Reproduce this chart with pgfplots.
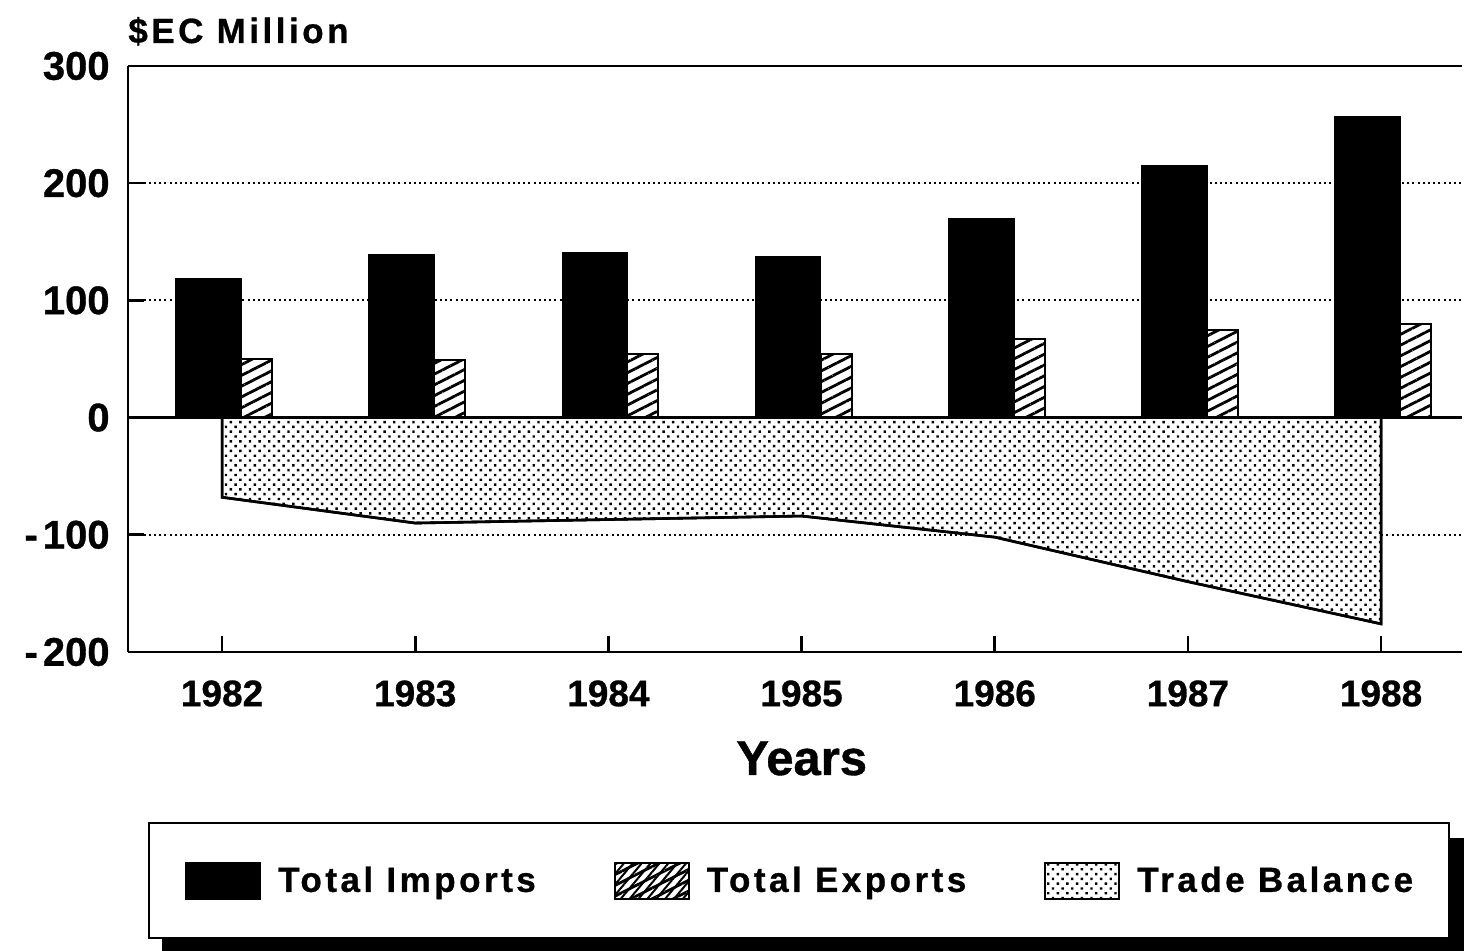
\documentclass[border=0pt]{standalone}
\usepackage{fontspec}
\setmainfont{Liberation Sans}[BoldFeatures={FakeBold=0.8}]
\newfontfamily\spaced{Liberation Sans}[LetterSpace=10, BoldFeatures={FakeBold=0.8}]
\usepackage{pgfplots}
\usepackage{pgfplotstable}
\pgfplotsset{compat=1.18}
\usetikzlibrary{patterns.meta,backgrounds}

% Trade of the territory, $EC million
\pgfplotstableread{
x imports exports balance
0 118 50 -68
1 139 49 -90
2 141 54 -87
3 137 54 -84
4 170 67 -102
5 215 75 -140
6 257 80 -176
}\tradedata

\begin{document}
\begin{tikzpicture}
\useasboundingbox (0,0) rectangle (733.5pt,475.5pt);
\begin{axis}[
  at={(64pt,149.5pt)}, anchor=south west,
  scale only axis, width=667pt, height=293pt,
  xmin=-0.487, xmax=6.419, ymin=-200, ymax=300,
  axis lines*=left,
  axis line style={line width=1.3pt, black},
  xtick={0,1,2,3,4,5,6},
  xticklabels={1982,1983,1984,1985,1986,1987,1988},
  ytick={-200,-100,0,100,200,300},
  yticklabels={-\hspace{2.5pt}200,-\hspace{2.5pt}100,0,100,200,300},
  tick align=inside, major tick length=8pt,
  tick style={line width=1.3pt, black},
  ymajorgrids,
  grid style={line width=0.9pt, dash pattern=on 1pt off 1.6pt, black},
  xticklabel style={font=\fontsize{18.5}{22}\selectfont\bfseries, inner sep=0pt, anchor=north, yshift=-14pt},
  yticklabel style={font=\fontsize{20}{24}\selectfont\bfseries, inner sep=0pt, anchor=east, xshift=-9pt},
  title={\spaced\bfseries \$EC Million},
  title style={at={(rel axis cs:0,1)}, anchor=base west, yshift=5.5pt, inner sep=0pt,
    font=\fontsize{17.5}{20}\selectfont},
  xlabel={Years},
  xlabel style={at={(axis description cs:0.505,0)}, anchor=base, yshift=-61.5pt, inner sep=0pt,
    font=\fontsize{24.5}{28}\selectfont\bfseries},
  legend columns=3,
  legend style={
    name=tradelegend,
    at={(rel axis cs:0,0)}, anchor=north west, xshift=10pt, yshift=-85pt,
    draw=black, line width=1.2pt, fill=white,
    inner xsep=18pt, inner ysep=19.25pt,
    nodes={inner sep=0pt},
    font=\fontsize{17.5}{20}\selectfont\spaced\bfseries,
    /tikz/every odd column/.append style={column sep=8.5pt},
    /tikz/every even column/.append style={column sep=39pt},
  },
  boxlegend/.style={legend image code/.code={
    \draw[##1, line width=1pt] (0pt,-9pt) rectangle (37pt,9pt);}},
]

% imports
\addplot[ybar, bar width=32.5pt, bar shift=-6.75pt,
  fill=black, draw=black, line width=0.8pt, boxlegend]
  table[x=x, y=imports] {\tradedata};
\addlegendentry{Total Imports}

% exports
\addplot[ybar, bar width=15.5pt, bar shift=17.25pt,
  fill=white, draw=black, line width=1pt,
  postaction={pattern={Lines[angle=27, distance=4.8pt, line width=1.4pt]}},
  legend image code/.code={
    \draw[line width=1pt, fill=white,
      postaction={pattern={Lines[angle=50, distance=3.4pt, line width=1pt]}}]
      (0pt,-9pt) rectangle (37pt,9pt);}]
  table[x=x, y=exports] {\tradedata};
\addlegendentry{Total Exports}

% trade balance
\addplot[draw=black, line width=1.3pt, fill=white,
  postaction={pattern={Dots[angle=45, distance=3.4pt, radius=0.85pt]}}, boxlegend]
  table[x=x, y=balance] {\tradedata} \closedcycle;
\addlegendentry{Trade Balance}

% zero line and top frame
\draw[line width=1.2pt, black] (axis cs:-0.487,0) -- (axis cs:6.419,0);
\draw[line width=1.3pt, black] (rel axis cs:0,1) -- (rel axis cs:1,1);
\end{axis}
% solid shadow behind the legend box
\begin{scope}[on background layer]
  \fill[black] ([xshift=7pt,yshift=-8pt]tradelegend.south west)
    rectangle ([xshift=7pt,yshift=-8pt]tradelegend.north east);
\end{scope}
\end{tikzpicture}
\end{document}
